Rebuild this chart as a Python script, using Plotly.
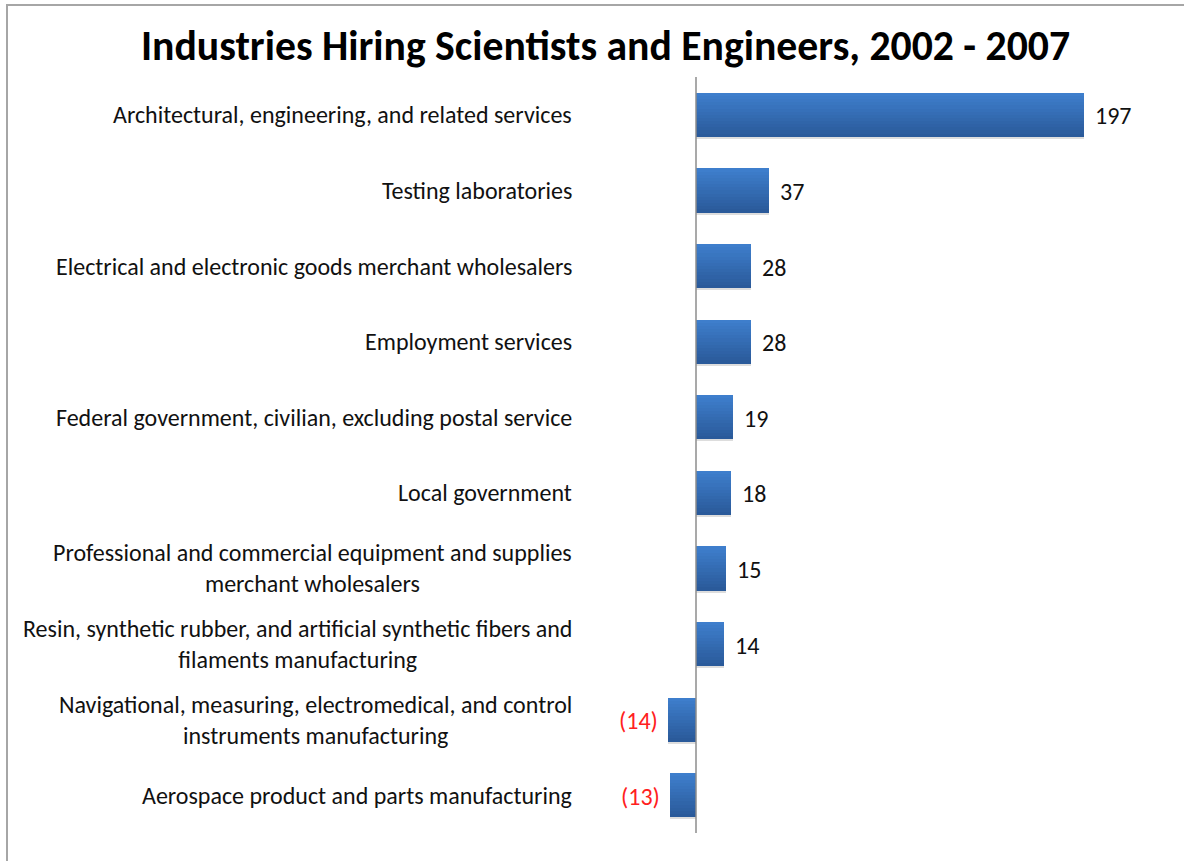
import plotly.graph_objects as go

# Net change in scientist and engineer employment by industry (thousands)
industries = [
    "Architectural, engineering, and related services",
    "Testing laboratories",
    "Electrical and electronic goods merchant wholesalers",
    "Employment services",
    "Federal government, civilian, excluding postal service",
    "Local government",
    "Professional and commercial equipment and supplies<br>merchant wholesalers",
    "Resin, synthetic rubber, and artificial synthetic fibers and<br>filaments manufacturing",
    "Navigational, measuring, electromedical, and control<br>instruments manufacturing",
    "Aerospace product and parts manufacturing",
]
change = [197, 37, 28, 28, 19, 18, 15, 14, -14, -13]

TITLE = "Industries Hiring Scientists and Engineers, 2002 - 2007"
FONT = "Carlito, Lato, sans-serif"

W, H = 1184, 861
ML, MR, MT, MB = 640, 44, 77, 28
ZERO_PX = 696
PX_PER_UNIT = 1.97
plot_w = W - ML - MR
plot_h = H - MT - MB
x_range = [(ML - ZERO_PX) / PX_PER_UNIT, (W - MR - ZERO_PX) / PX_PER_UNIT]

cats = list(range(len(industries)))
bar_w = 0.58
top_rgb = (62, 126, 204)
bot_rgb = (42, 90, 154)
n_strips = 14

fig = go.Figure()

# soft drop shadow behind the bars
fig.add_trace(go.Bar(
    y=cats, x=change, orientation="h",
    width=bar_w, offset=-bar_w / 2 + 0.03,
    marker=dict(color="rgba(120,120,120,0.25)", line=dict(width=0)),
    hoverinfo="skip", showlegend=False,
))

# vertical gradient built from thin horizontal strips
sw = bar_w / n_strips
for i in range(n_strips):
    t = i / (n_strips - 1)
    r, g, b = (round(a + (c - a) * t) for a, c in zip(top_rgb, bot_rgb))
    fig.add_trace(go.Bar(
        y=cats, x=change, orientation="h",
        width=sw * 1.08, offset=-bar_w / 2 + i * sw,
        marker=dict(color=f"rgb({r},{g},{b})", line=dict(width=0)),
        hoverinfo="skip", showlegend=False,
    ))

annotations = []
for i, (name, v) in enumerate(zip(industries, change)):
    annotations.append(dict(
        x=(574 - ML) / plot_w, xref="paper", y=i, yref="y",
        text=name, showarrow=False, xanchor="right", yanchor="middle",
        align="center", font=dict(family=FONT, size=24, color="#111111"),
    ))
    if v >= 0:
        annotations.append(dict(
            x=v, y=i, xref="x", yref="y", text=f"{v}", showarrow=False,
            xanchor="left", xshift=9, yshift=-1,
            font=dict(family=FONT, size=24, color="#111111"),
        ))
    else:
        annotations.append(dict(
            x=v, y=i, xref="x", yref="y", text=f"({abs(v)})", showarrow=False,
            xanchor="right", xshift=-8, yshift=-1,
            font=dict(family=FONT, size=24, color="#ff2020"),
        ))

annotations.append(dict(
    x=(605 - ML) / plot_w, xref="paper", y=(H - 45 - MB) / plot_h, yref="paper",
    text=f"<b>{TITLE}</b>", showarrow=False, xanchor="center", yanchor="middle",
    font=dict(family=FONT, size=41.7, color="#000000"),
))

fig.update_layout(
    width=W, height=H,
    margin=dict(l=ML, r=MR, t=MT, b=MB),
    paper_bgcolor="white", plot_bgcolor="white",
    barmode="overlay", bargap=0,
    showlegend=False,
    annotations=annotations,
    shapes=[
        # chart frame
        dict(type="rect", xref="paper", yref="paper",
             x0=(7 - ML) / plot_w, x1=(W + 20 - ML) / plot_w,
             y0=(H - (H + 20) - MB) / plot_h, y1=(H - 5 - MB) / plot_h,
             line=dict(color="#a6a6a6", width=2), layer="below"),
        # category axis at zero
        dict(type="line", xref="x", yref="paper", x0=0, x1=0, y0=0, y1=1,
             line=dict(color="#8c8c8c", width=1.5), layer="above"),
    ],
    xaxis=dict(range=x_range, visible=False, fixedrange=True),
    yaxis=dict(range=[len(industries) - 0.5, -0.5], visible=False, fixedrange=True),
)

fig.write_html("out.html")
